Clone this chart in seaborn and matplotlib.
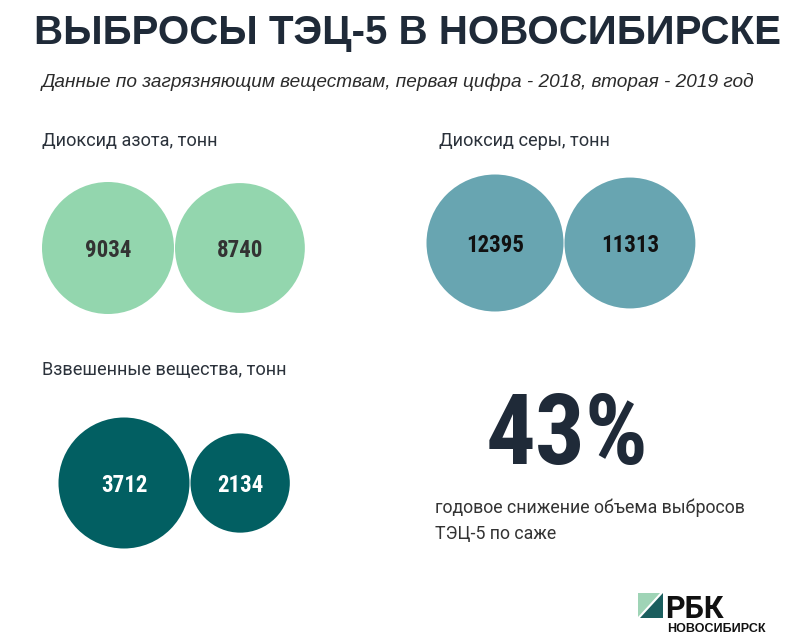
import numpy as np
import pandas as pd
import matplotlib
matplotlib.use("Agg")
import matplotlib.pyplot as plt
from matplotlib.patches import Polygon
import seaborn as sns

sns.set_theme(style="white")

# data
groups = ["Диоксид азота, тонн", "Диоксид серы, тонн", "Взвешенные вещества, тонн"]
values_2018 = [9034, 12395, 3712]
values_2019 = [8740, 11313, 2134]
soot_drop_pct = 43
title = "ВЫБРОСЫ ТЭЦ-5 В НОВОСИБИРСКЕ"
subtitle = "Данные по загрязняющим веществам, первая цифра - 2018, вторая - 2019 год"
caption_lines = ["годовое снижение объема выбросов", "ТЭЦ-5 по саже"]

# layout (pixels): centre of the 2018 circle, radius of the larger circle, label anchor
anchors = [(108, 248), (495, 243), (124, 483)]
max_radius = [66, 68.5, 65.5]
label_pos = [(42, 146), (439, 146), (42, 375)]
fill_colors = ["#93d6ae", "#68a5b1", "#025f62"]
num_colors = ["#333333", "#111111", "#ffffff"]

rows = []
for g, v18, v19, (cx, cy), rmax in zip(groups, values_2018, values_2019, anchors, max_radius):
    top = max(v18, v19)
    r18 = rmax * np.sqrt(v18 / top)
    r19 = rmax * np.sqrt(v19 / top)
    rows.append(dict(group=g, year=2018, value=v18, x=cx, y=cy, r=r18))
    rows.append(dict(group=g, year=2019, value=v19, x=cx + r18 + r19 + 1, y=cy, r=r19))
df = pd.DataFrame(rows)
df["s"] = (2 * df["r"] * 72 / 100) ** 2  # marker area in pt^2

fig = plt.figure(figsize=(8.11, 6.43), dpi=100)
ax = fig.add_axes([0, 0, 1, 1])
ax.set_xlim(0, 811)
ax.set_ylim(643, 0)

sns.scatterplot(data=df, x="x", y="y", hue="group", palette=dict(zip(groups, fill_colors)),
                s=df["s"].to_numpy(), linewidth=0, legend=False, ax=ax)

num_font = ["Roboto Condensed", "Liberation Sans Narrow", "Roboto"]
for _, row in df.iterrows():
    ax.text(row.x, row.y, str(row.value), ha="center", va="center_baseline",
            fontsize=16.5, fontweight="bold", family=num_font,
            color=num_colors[groups.index(row.group)])

for g, (lx, ly) in zip(groups, label_pos):
    ax.text(lx, ly, g, ha="left", va="baseline", fontsize=13.1, family="Roboto", color="#2b323b")

ax.text(408, 44, title, ha="center", va="baseline", fontsize=29, fontweight="bold",
        family="Liberation Sans", color="#1f2a38")
ax.text(42, 87, subtitle, ha="left", va="baseline", fontsize=13.7, style="italic",
        family="Liberation Sans", color="#2b2b2b")

ax.text(486, 464, f"{soot_drop_pct}%", ha="left", va="baseline", fontsize=71, fontweight="bold",
        family=num_font, color="#1f2a38")
for i, line in enumerate(caption_lines):
    ax.text(435, 513 + 26 * i, line, ha="left", va="baseline", fontsize=12.8, family="Roboto",
            color="#333333")

# logo
ax.add_patch(Polygon([(638, 593), (660, 593), (638, 617)], closed=True, color="#9fd4b6", lw=0))
ax.add_patch(Polygon([(663, 593), (663, 618), (640, 618)], closed=True, color="#1b5e5e", lw=0))
ax.text(665, 618, "РБК", ha="left", va="baseline", fontsize=22, fontweight="bold",
        family="Roboto", color="#111111")
ax.text(667, 632, "НОВОСИБИРСК", ha="left", va="baseline", fontsize=9, fontweight="bold",
        family="Liberation Sans", color="#111111")

ax.axis("off")
fig.savefig("out.png", dpi=100, facecolor="white")
